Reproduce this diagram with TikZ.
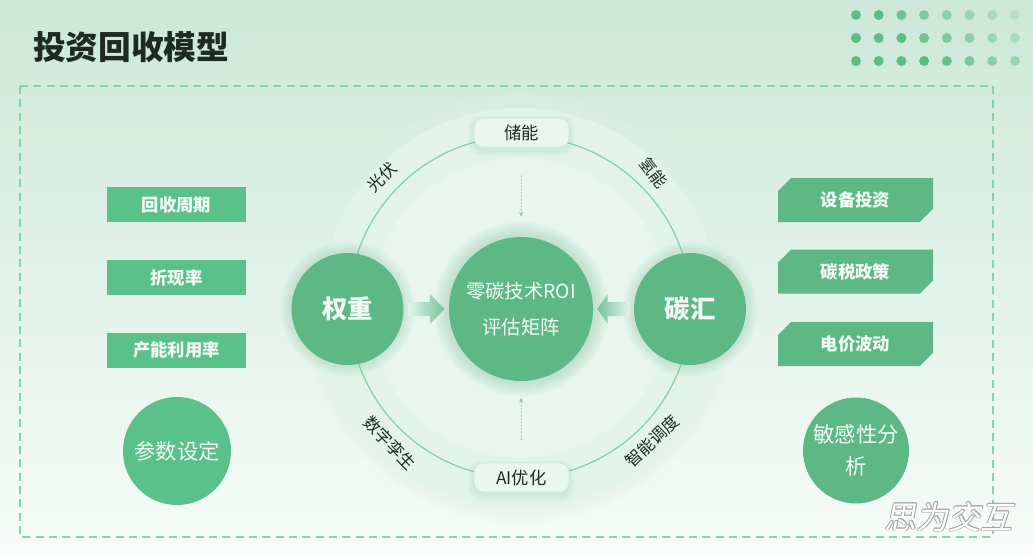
\documentclass[tikz,border=0pt]{standalone}
\usepackage{fontspec}
\setmainfont{Noto Sans CJK SC}
\usetikzlibrary{calc,arrows.meta,shapes.misc}
\definecolor{bgtop}{HTML}{CCE8D8}
\definecolor{bgbot}{HTML}{F7FCF9}
\definecolor{gmain}{HTML}{5DB886}
\definecolor{gbright}{HTML}{5BC18A}
\definecolor{orbitc}{HTML}{86CEA4}
\definecolor{dashc}{HTML}{86D3A8}
\definecolor{titlec}{HTML}{1E2A23}
\definecolor{haloc}{HTML}{E2F4E9}
\definecolor{pillc}{HTML}{EAF7F0}
\definecolor{pilld}{HTML}{CFE9DA}
\definecolor{txtw}{HTML}{F3FBF6}
\definecolor{glowc}{HTML}{7FC8A0}
\definecolor{dotc}{HTML}{5CBD84}
\newcommand{\glowring}[3]{%
  \foreach \k in {1,...,#3}{\fill[glowc, opacity=0.035] #1 circle ({#2+\k*1.3});}}
\begin{document}
\begin{tikzpicture}[x=0.75pt,y=-0.75pt,
  gcircle/.style={circle, fill=gmain, text=txtw, inner sep=0pt, align=center},
  lbox/.style={rectangle, fill=gbright, text=txtw, minimum width=104.25pt, minimum height=26.25pt, inner sep=0pt, font=\fontsize{13pt}{15pt}\selectfont\bfseries},
  rbox/.style={chamfered rectangle, chamfered rectangle corners={north west,south east}, chamfered rectangle xsep=7pt, fill=gmain, text=txtw, minimum width=116.25pt, minimum height=33pt, inner sep=0pt, font=\fontsize{13pt}{15pt}\selectfont\bfseries},
  pill/.style={rectangle, rounded corners=7pt, fill=pillc, draw=pilld, line width=0.6pt, minimum width=71.25pt, minimum height=21.75pt, inner sep=0pt, text=titlec, font=\fontsize{13pt}{15pt}\selectfont},
  arclabel/.style={text=titlec, inner sep=0pt, font=\fontsize{12.5pt}{14pt}\selectfont},
  flowarrow/.style={draw=orbitc, line width=0.6pt, dash pattern=on 1.5pt off 1pt, -{Stealth[length=3.5pt,width=3pt]}}
]
\useasboundingbox (0,0) rectangle (1033,557);
% background
\shade[top color=bgtop, bottom color=bgbot] (0,0) rectangle (1033,557);
% decorative dots
\foreach \op [count=\i from 0] in {1,1,0.85,0.7,0.55,0.45,0.32,0.18}
  \fill[dotc, opacity=\op] ({856+22.7*\i},15) circle (5);
\foreach \op [count=\i from 0] in {1,1,1,0.85,0.7,0.58,0.45,0.33}
  \fill[dotc, opacity=\op] ({856+22.7*\i},38) circle (5);
\foreach \op [count=\i from 0] in {1,1,1,1,0.9,0.75,0.6,0.48}
  \fill[dotc, opacity=\op] ({856+22.7*\i},61) circle (5);
% title
\node[anchor=west, inner sep=0pt, text=titlec, font=\fontsize{24.5pt}{27pt}\selectfont\bfseries] (title) at (33,47) {投资回收模型};
% dashed frame
\draw[dashc, line width=1pt, dash pattern=on 6pt off 4pt] (20,86) rectangle (993,537);
% halo
\foreach \k in {1,...,8}{\fill[haloc, opacity=0.12] (520,308) circle ({200+\k*2});}
\fill[haloc] (520,308) circle (200);
\fill[white, opacity=0.25] (520,308) circle (150);
% orbit
\node[circle, draw=orbitc, line width=0.9pt, minimum size=256.5pt, inner sep=0pt] (orbit) at (520,307) {};
% arc labels
\node[arclabel, rotate=45] (l1) at (382,177) {光伏};
\node[arclabel, rotate=-52] (l2) at (654,173) {氢能};
\node[arclabel, rotate=-46] (l3) at (390,443) {数字孪生};
\node[arclabel, rotate=44] (l4) at (652,441) {智能调度};
% glows
\glowring{(521,309)}{72}{12}
\glowring{(347.5,309)}{56}{9}
\glowring{(690,309)}{56}{9}
\foreach \k in {1,...,6}{\fill[glowc, opacity=0.03, rounded corners=9pt] (474-\k,118-\k+3) rectangle (569+\k,147+\k+3);}
\foreach \k in {1,...,6}{\fill[glowc, opacity=0.03, rounded corners=9pt] (474-\k,463-\k+3) rectangle (569+\k,492+\k+3);}
% central nodes
\node[gcircle, minimum size=108pt, font=\fontsize{14.5pt}{27pt}\selectfont] (c) at (521,309) {零碳技术ROI\\评估矩阵};
\node[gcircle, minimum size=84pt, font=\fontsize{19pt}{21pt}\selectfont\bfseries] (w) at (347.5,309) {权重};
\node[gcircle, minimum size=84pt, font=\fontsize{19pt}{21pt}\selectfont\bfseries] (s) at (690,309) {碳汇};
\node[pill] (p1) at (521.5,132.5) {储能};
\node[pill] (p2) at (521.5,477.5) {AI优化};
% flow arrows
\draw[flowarrow, shorten <=21pt, shorten >=15pt] (p1.south) -- (c.north);
\draw[flowarrow, shorten <=17pt, shorten >=12.5pt] (p2.north) -- (c.south);
% block arrows
\shade[left color=haloc, right color=gmain!85]
  ($(w.east)+(4,-7)$) -- ($(w.east)+(26,-7)$) -- ($(w.east)+(26,-15)$) -- ($(c.west)+(-4,0)$)
  -- ($(w.east)+(26,15)$) -- ($(w.east)+(26,7)$) -- ($(w.east)+(4,7)$) -- cycle;
\shade[right color=haloc, left color=gmain!85]
  ($(s.west)+(-4,-7)$) -- ($(s.west)+(-26,-7)$) -- ($(s.west)+(-26,-15)$) -- ($(c.east)+(4,0)$)
  -- ($(s.west)+(-26,15)$) -- ($(s.west)+(-26,7)$) -- ($(s.west)+(-4,7)$) -- cycle;
% left boxes
\node[lbox] (a1) at (176.5,204.5) {回收周期};
\node[lbox] (a2) at (176.5,277.5) {折现率};
\node[lbox] (a3) at (176.5,350) {产能利用率};
\node[gcircle, fill=gbright, minimum size=81pt, font=\fontsize{16pt}{19pt}\selectfont] (pa) at (177,451) {参数设定};
% right boxes
\node[rbox] (b1) at (855.5,200) {设备投资};
\node[rbox] (b2) at (855.5,271.5) {碳税政策};
\node[rbox] (b3) at (855.5,344) {电价波动};
\node[gcircle, minimum size=79.5pt, font=\fontsize{16pt}{24pt}\selectfont] (sa) at (856,450.5) {敏感性分\\析};
% watermark
\foreach \dx/\dy in {0.6/0,-0.6/0,0/0.6,0/-0.6,0.45/0.45,-0.45/0.45,0.45/-0.45,-0.45/-0.45}
  \node[text=gray!70, xslant=0.2, transform shape, font=\fontsize{24pt}{26pt}\selectfont] at ({951+\dx},{517+\dy}) {思为交互};
\node[text=white, xslant=0.2, transform shape, font=\fontsize{24pt}{26pt}\selectfont] (wm) at (951,517) {思为交互};
\end{tikzpicture}
\end{document}
